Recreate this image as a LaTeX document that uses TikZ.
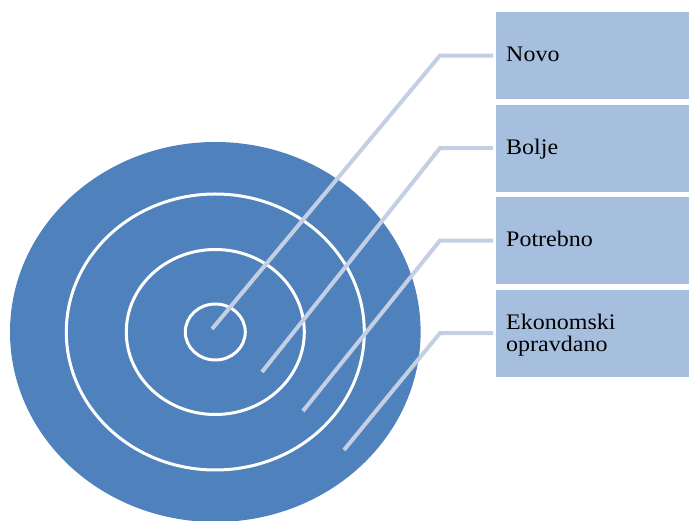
\documentclass[tikz,border=0pt]{standalone}
\usepackage{fontspec}
\usepackage{graphicx}
\setmainfont{Liberation Serif}
\definecolor{diskblue}{HTML}{4F81BD}
\definecolor{boxblue}{HTML}{A7BFDE}
\definecolor{connblue}{HTML}{C4CFE4}
\tikzset{
  ring/.style={draw=white, line width=3pt},
  labelbox/.style={fill=boxblue, draw=none, minimum width=193pt, minimum height=87pt, inner sep=0pt, anchor=north west},
  labeltext/.style={anchor=base west, inner sep=0pt, font=\fontsize{24}{21.6}\selectfont},
  conn/.style={draw=connblue, line width=4pt, shorten >=3pt}
}
\newcommand{\sq}[1]{\scalebox{1}[0.925]{#1}}
\begin{document}
\begin{tikzpicture}[x=1pt,y=-1pt]
\useasboundingbox (0,0) rectangle (689,521);
% target
\fill[diskblue] (215.3,332) ellipse [x radius=205.3, y radius=190];
\draw[ring] (215.3,332) ellipse [x radius=149, y radius=138];
\draw[ring] (215.3,332) ellipse [x radius=89, y radius=82.5];
\draw[ring] (215.3,332) ellipse [x radius=30, y radius=28];
% boxes
\node[labelbox] (b1) at (496,12) {};
\node[labelbox] (b2) at (496,104.5) {};
\node[labelbox] (b3) at (496,197) {};
\node[labelbox] (b4) at (496,289.5) {};
\node[labeltext] (t1) at (506,62) {\sq{Novo}};
\node[labeltext] (t2) at (506,154.5) {\sq{Bolje}};
\node[labeltext] (t3) at (506,247) {\sq{Potrebno}};
\node[labeltext] (t4) at (506,330) {\sq{\begin{tabular}[t]{@{}l@{}}Ekonomski\\opravdano\end{tabular}}};
% connectors
\coordinate (s1) at (212,329);
\coordinate (s2) at (262,372);
\coordinate (s3) at (303,411);
\coordinate (s4) at (344,450);
\coordinate (k1) at (440,55.5);
\coordinate (k2) at (440,148);
\coordinate (k3) at (440,240.5);
\coordinate (k4) at (440,333);
\draw[conn] (s1) -- (k1) -- (b1.west);
\draw[conn] (s2) -- (k2) -- (b2.west);
\draw[conn] (s3) -- (k3) -- (b3.west);
\draw[conn] (s4) -- (k4) -- (b4.west);
\end{tikzpicture}
\end{document}
